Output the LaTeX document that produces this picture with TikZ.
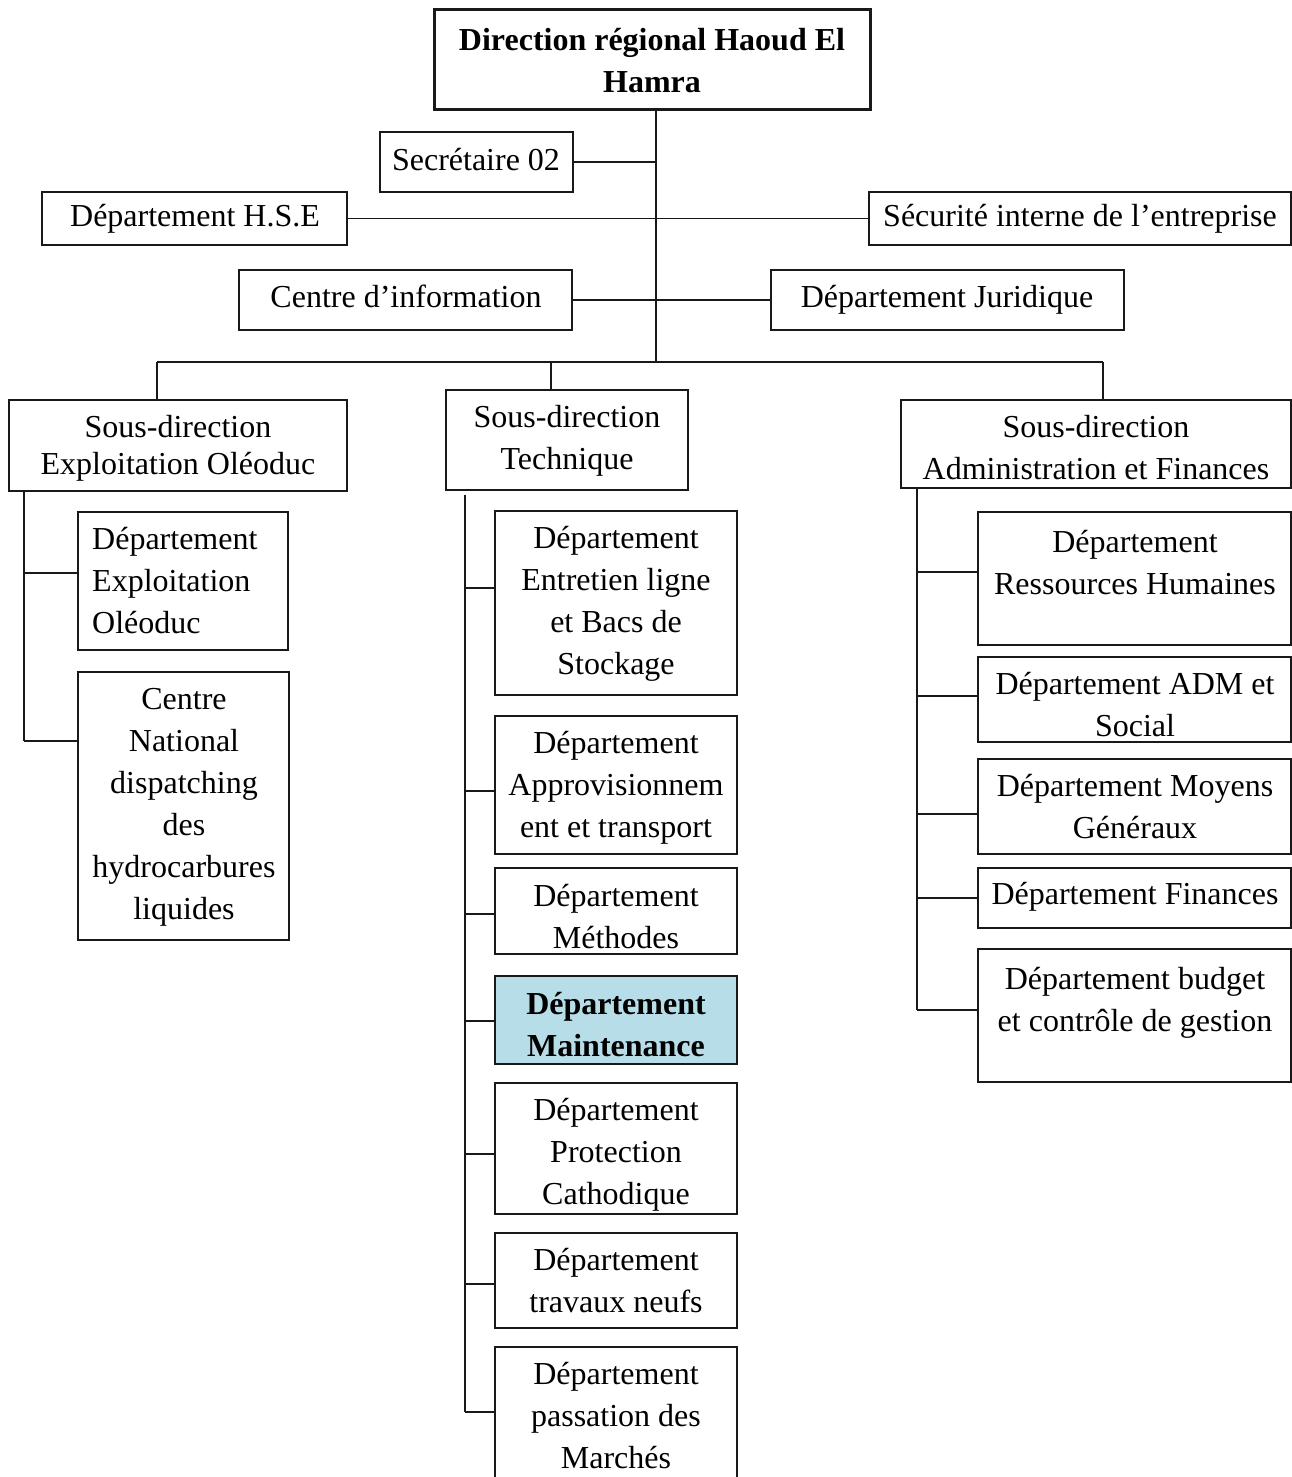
\documentclass[tikz,border=0pt]{standalone}
\usepackage{fontspec}
\setmainfont{Liberation Serif}
\definecolor{maintfill}{RGB}{183,221,232}
\definecolor{linecol}{RGB}{25,25,25}
\newcommand{\orgbox}[6][]{%
  \pgfmathsetmacro{\orgW}{#5-#3}\pgfmathsetmacro{\orgH}{#6-#4}%
  \node[box,#1,minimum width=\orgW pt,minimum height=\orgH pt,anchor=north west] (#2) at (#3,#4) {};}
\begin{document}
\begin{tikzpicture}[x=1pt,y=-1pt,
  box/.style={draw=linecol,line width=1.3pt,inner sep=0pt,outer sep=0pt},
  txt/.style={align=center,inner sep=0pt,font=\fontsize{32}{42}\selectfont},
  conn/.style={draw=linecol,line width=1.3pt}]
\useasboundingbox[fill=white] (0,0) rectangle (1292,1477);

% ---------- top level ----------
\orgbox[line width=3pt]{top}{434}{10}{870}{110}
\node[txt,font=\fontsize{32}{42}\selectfont\bfseries] (topt) at (652,61) {Direction régional Haoud El\\Hamra};

\orgbox{sec}{380}{132}{573}{192}
\node[txt] (sect) at (476,160) {Secrétaire 02};

\orgbox{hse}{42}{192}{347}{245}
\node[txt] (hset) at (195,219) {Département H.S.E};

\orgbox{secu}{869}{192}{1291}{245}
\node[txt] (secut) at (1080,219) {Sécurité interne de l’entreprise};

\orgbox{ci}{239}{270}{572}{330}
\node[txt] (cit) at (406,296) {Centre d’information};

\orgbox{jur}{771}{270}{1124}{330}
\node[txt] (jurt) at (947,300) {Département Juridique};

\coordinate (trunk) at (656,362);
\coordinate (busL) at (157,362);
\coordinate (busM) at (551,362);
\coordinate (busR) at (1103,362);

\draw[conn] (top.south -| trunk) -- (trunk);
\draw[conn] (sec.east) -- (sec.east -| trunk);
\draw[conn] (hse.east) -- (secu.west);
\draw[conn] (ci.east) -- (jur.west);
\draw[conn] (busL) -- (busR);

% ---------- sous-directions ----------
\orgbox{sdE}{9}{400}{347}{491}
\node[txt,font=\fontsize{32}{37}\selectfont] (sdEt) at (178,448) {Sous-direction\\Exploitation Oléoduc};

\orgbox{sdT}{446}{390}{688}{490}
\node[txt] (sdTt) at (567,441) {Sous-direction\\Technique};

\orgbox{sdA}{901}{400}{1291}{488}
\node[txt] (sdAt) at (1096,448) {Sous-direction\\Administration et Finances};

\draw[conn] (busL) -- (busL |- sdE.north);
\draw[conn] (busM) -- (busM |- sdT.north);
\draw[conn] (busR) -- (busR |- sdA.north);

% ---------- left branch ----------
\orgbox{deo}{78}{512}{288}{650}
\node[txt,align=left,anchor=west] (deot) at (92,581) {Département\\Exploitation\\Oléoduc};

\orgbox{cn}{78}{672}{289}{940}
\node[txt] (cnt) at (184,807) {Centre\\National\\dispatching\\des\\hydrocarbures\\liquides};

\coordinate (lvTop) at (24,491);
\coordinate (lvA) at (24,573);
\coordinate (lvB) at (24,741);
\draw[conn] (lvTop) -- (lvB);
\draw[conn] (lvA) -- (lvA -| deo.west);
\draw[conn] (lvB) -- (lvB -| cn.west);

% ---------- middle branch ----------
\orgbox{mE}{495}{511}{737}{695}
\node[txt] (mEt) at (616,604) {Département\\Entretien ligne\\et Bacs de\\Stockage};

\orgbox{mA}{495}{716}{737}{854}
\node[txt] (mAt) at (616,788) {Département\\Approvisionnem\\ent et transport};

\orgbox{mM}{495}{868}{737}{954}
\node[txt] (mMt) at (616,917) {Département\\Méthodes};

\orgbox[fill=maintfill]{mMt2}{495}{976}{737}{1064}
\node[txt,font=\fontsize{32}{42}\selectfont\bfseries] (mMtt) at (616,1025) {Département\\Maintenance};

\orgbox{mP}{495}{1083}{737}{1214}
\node[txt] (mPt) at (616,1155) {Département\\Protection\\Cathodique};

\orgbox{mT}{495}{1233}{737}{1328}
\node[txt] (mTt) at (616,1281) {Département\\travaux neufs};

\orgbox{mPM}{495}{1347}{737}{1482}
\node[txt] (mPMt) at (616,1416) {Département\\passation des\\Marchés};

\coordinate (mvTop) at (465,495);
\coordinate (tE) at (465,588);
\coordinate (tA) at (465,791);
\coordinate (tM) at (465,914);
\coordinate (tMt) at (465,1021);
\coordinate (tP) at (465,1154);
\coordinate (tT) at (465,1284);
\coordinate (tPM) at (465,1412);
\draw[conn] (mvTop) -- (tPM);
\draw[conn] (tE) -- (tE -| mE.west);
\draw[conn] (tA) -- (tA -| mA.west);
\draw[conn] (tM) -- (tM -| mM.west);
\draw[conn] (tMt) -- (tMt -| mMt2.west);
\draw[conn] (tP) -- (tP -| mP.west);
\draw[conn] (tT) -- (tT -| mT.west);
\draw[conn] (tPM) -- (tPM -| mPM.west);

% ---------- right branch ----------
\orgbox{rRH}{978}{512}{1291}{645}
\node[txt] (rRHt) at (1135,563) {Département\\Ressources Humaines};

\orgbox{rADM}{978}{657}{1291}{742}
\node[txt] (rADMt) at (1135,705) {Département ADM et\\Social};

\orgbox{rMG}{978}{759}{1291}{854}
\node[txt] (rMGt) at (1135,807) {Département Moyens\\Généraux};

\orgbox{rF}{978}{868}{1291}{928}
\node[txt] (rFt) at (1135,897) {Département Finances};

\orgbox{rB}{978}{949}{1291}{1082}
\node[txt] (rBt) at (1135,1003) {Département budget\\et contrôle de gestion};

\coordinate (rvTop) at (917,488);
\coordinate (sRH) at (917,572);
\coordinate (sADM) at (917,696);
\coordinate (sMG) at (917,814);
\coordinate (sF) at (917,898);
\coordinate (sB) at (917,1010);
\draw[conn] (rvTop) -- (sB);
\draw[conn] (sRH) -- (sRH -| rRH.west);
\draw[conn] (sADM) -- (sADM -| rADM.west);
\draw[conn] (sMG) -- (sMG -| rMG.west);
\draw[conn] (sF) -- (sF -| rF.west);
\draw[conn] (sB) -- (sB -| rB.west);
\end{tikzpicture}
\end{document}
